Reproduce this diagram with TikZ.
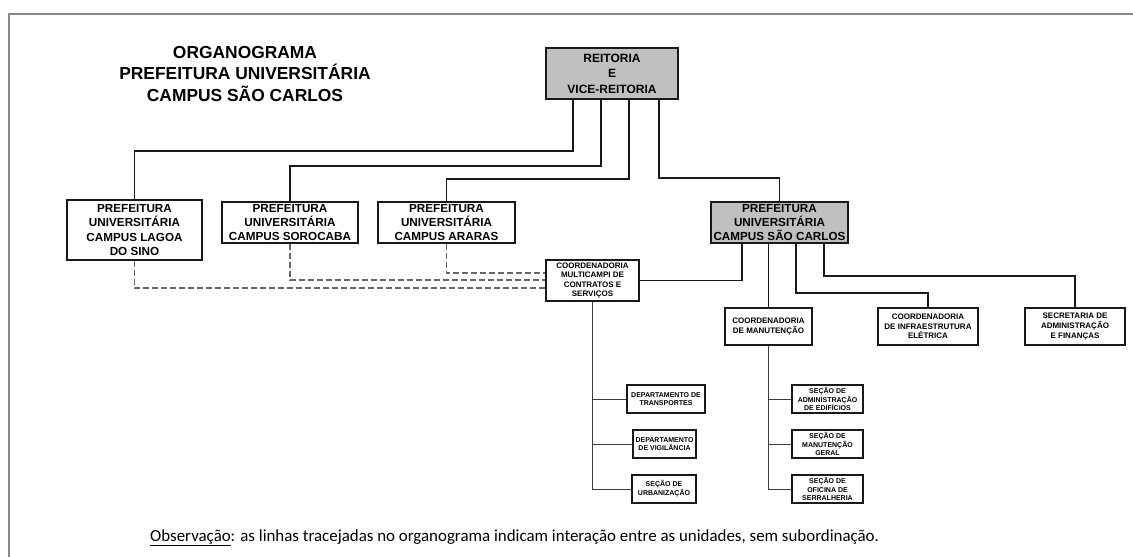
\documentclass[tikz,border=0pt]{standalone}
\usepackage{fontspec}
\setmainfont{Liberation Sans}
\newfontfamily\obsfont{Carlito}
\usepackage{tikz}

\definecolor{cinza}{RGB}{192,192,192}
\definecolor{moldura}{RGB}{135,135,135}
\definecolor{traco}{RGB}{25,25,25}

\begin{document}
\begin{tikzpicture}[x=1pt,y=-1pt,
  caixa/.style={draw=traco,line width=1.4pt,inner sep=0pt,align=center},
  reit/.style={caixa,fill=cinza,font=\fontsize{12}{15.5}\selectfont\bfseries},
  campus/.style={caixa,font=\fontsize{11.7}{14.3}\selectfont\bfseries},
  coord/.style={caixa,line width=1.2pt,font=\fontsize{8}{9.6}\selectfont\bfseries},
  secao/.style={caixa,line width=1.2pt,font=\fontsize{7}{8.8}\selectfont\bfseries},
  tronco/.style={draw=traco,line width=1.8pt},
  ramo/.style={draw=traco,line width=1.4pt},
  fino/.style={draw=traco!85,line width=0.9pt},
  tracejado/.style={draw=black!60,line width=1.1pt,dash pattern=on 6pt off 3pt}]
\useasboundingbox (0,0) rectangle (1133,557);

% frame
\draw[moldura,line width=1.5pt] (9,557) -- (9,14) -- (1133,14);

% title
\node[align=center,font=\fontsize{17.4}{21.5}\selectfont\bfseries] (titulo) at (245,74)
  {ORGANOGRAMA\\PREFEITURA UNIVERSITÁRIA\\CAMPUS SÃO CARLOS};

% top node
\node[reit,minimum width=132,minimum height=51] (reit) at (612,73.5) {REITORIA\\E\\VICE-REITORIA};

% campus nodes
\node[campus,minimum width=135,minimum height=60] (lagoa) at (134.5,230) {PREFEITURA\\UNIVERSITÁRIA\\CAMPUS LAGOA\\DO SINO};
\node[campus,minimum width=136,minimum height=41] (soro) at (290,222.5) {PREFEITURA\\UNIVERSITÁRIA\\CAMPUS SOROCABA};
\node[campus,minimum width=137,minimum height=41] (arar) at (446.5,222.5) {PREFEITURA\\UNIVERSITÁRIA\\CAMPUS ARARAS};
\node[campus,fill=cinza,minimum width=137,minimum height=41] (sc) at (779.5,222.5) {PREFEITURA\\UNIVERSITÁRIA\\CAMPUS SÃO CARLOS};

% coordenadorias
\node[coord,minimum width=93,minimum height=41] (multi) at (592.5,280.5) {COORDENADORIA\\MULTICAMPI DE\\CONTRATOS E\\SERVIÇOS};
\node[coord,minimum width=87,minimum height=37] (manut) at (768.5,326.5) {COORDENADORIA\\DE MANUTENÇÃO};
\node[coord,minimum width=100,minimum height=37] (infra) at (928,326.5) {COORDENADORIA\\DE INFRAESTRUTURA\\ELÉTRICA};
\node[coord,minimum width=100,minimum height=37] (secr) at (1075,326.5) {SECRETARIA DE\\ADMINISTRAÇÃO\\E FINANÇAS};

% secoes (left)
\node[secao,minimum width=78,minimum height=28] (transp) at (666,399) {DEPARTAMENTO DE\\TRANSPORTES};
\node[secao,minimum width=63,minimum height=28] (vigil) at (664.5,444) {DEPARTAMENTO\\DE VIGILÂNCIA};
\node[secao,minimum width=64,minimum height=28] (urban) at (664,489) {SEÇÃO DE\\URBANIZAÇÃO};

% secoes (right)
\node[secao,minimum width=71,minimum height=28] (edif) at (827.5,399) {SEÇÃO DE\\ADMINISTRAÇÃO\\DE EDIFÍCIOS};
\node[secao,minimum width=71,minimum height=28] (geral) at (827.5,444) {SEÇÃO DE\\MANUTENÇÃO\\GERAL};
\node[secao,minimum width=71,minimum height=28] (oficina) at (827.5,489) {SEÇÃO DE\\OFICINA DE\\SERRALHERIA};

% reitoria links
\draw[tronco] (reit.south -| 573,0) -- (573,151) -| (lagoa.north);
\draw[tronco] (reit.south -| 601,0) -- (601,166) -| (soro.north);
\draw[tronco] (reit.south -| 629,0) -- (629,179) -| (arar.north);
\draw[tronco] (reit.south -| 659,0) -- (659,178) -| (sc.north);

% interaction (dashed)
\draw[tracejado] (lagoa.south) |- (multi.west |- 0,288);
\draw[tracejado] (soro.south) |- (multi.west |- 0,280);
\draw[tracejado] (arar.south) |- (multi.west |- 0,273);

% sao carlos links
\draw[ramo] (sc.south -| 742,0) |- (multi.east);
\draw[ramo] (sc.south -| manut.north) -- (manut.north);
\draw[ramo] (sc.south -| 796,0) -- (796,293) -| (infra.north);
\draw[ramo] (sc.south -| 824,0) -- (824,276) -| (secr.north);

% secoes links
\draw[fino] (multi.south) |- (urban.west);
\draw[fino] (multi.south |- transp.west) -- (transp.west);
\draw[fino] (multi.south |- vigil.west) -- (vigil.west);
\draw[fino] (manut.south) |- (oficina.west);
\draw[fino] (manut.south |- edif.west) -- (edif.west);
\draw[fino] (manut.south |- geral.west) -- (geral.west);

% note
\node[anchor=west,font=\obsfont\fontsize{16.9}{20}\selectfont,inner sep=0pt] (obs) at (150,538)
  {\underline{Observação}: as linhas tracejadas no organograma indicam interação entre as unidades, sem subordinação.};

\end{tikzpicture}
\end{document}
